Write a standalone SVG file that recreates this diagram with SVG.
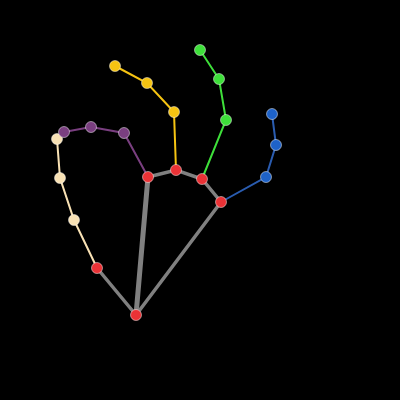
<svg xmlns="http://www.w3.org/2000/svg" width="400" height="400" viewBox="0 0 400 400">
<style>
.g{stroke:#808080;stroke-linecap:round;fill:none}
.c{fill:none;stroke-width:2;stroke-linecap:round}
circle{stroke:#ffffff;stroke-width:0.6;stroke-opacity:0.8}
.r{fill:#ea3236}.y{fill:#f6c412}.gr{fill:#3ee03a}.b{fill:#1e62c8}.p{fill:#7a3f80}.w{fill:#f8e1b4}
</style>
<rect width="400" height="400" fill="#000"/>
<g id="connectors">
<path class="g" stroke-width="5" d="M136,315 L148,177"/>
<path class="g" stroke-width="3.5" d="M136,315 L97,268 M136,315 L221,202 M148,177 L176,170 L202,179 L221,202"/>
<path class="c" stroke="#f8e1b4" d="M97,268 L74,220 L60,178 L57,139"/>
<path class="c" stroke="#7a3f80" d="M148,177 L124,133 L91,127 L64,132"/>
<path class="c" stroke="#f6c412" d="M176,170 L174,112 L147,83 L115,66"/>
<path class="c" stroke="#3ee03a" d="M202,179 L226,120 L219,79 L200,50"/>
<path class="c" stroke="#2a5cb0" d="M221,202 L266,177 L276,145 L272,114"/>
</g>
<g id="thumb">
<circle class="w" cx="74" cy="220" r="5.5"/><circle class="w" cx="60" cy="178" r="5.5"/><circle class="w" cx="57" cy="139" r="5.5"/>
</g>
<g id="pinky">
<circle class="p" cx="124" cy="133" r="5.5"/><circle class="p" cx="91" cy="127" r="5.5"/><circle class="p" cx="64" cy="132" r="5.5"/>
</g>
<g id="ring">
<circle class="y" cx="174" cy="112" r="5.5"/><circle class="y" cx="147" cy="83" r="5.5"/><circle class="y" cx="115" cy="66" r="5.5"/>
</g>
<g id="middle">
<circle class="gr" cx="226" cy="120" r="5.5"/><circle class="gr" cx="219" cy="79" r="5.5"/><circle class="gr" cx="200" cy="50" r="5.5"/>
</g>
<g id="index">
<circle class="b" cx="266" cy="177" r="5.5"/><circle class="b" cx="276" cy="145" r="5.5"/><circle class="b" cx="272" cy="114" r="5.5"/>
</g>
<g id="palm">
<circle class="r" cx="136" cy="315" r="5.5"/><circle class="r" cx="97" cy="268" r="5.5"/><circle class="r" cx="148" cy="177" r="5.5"/><circle class="r" cx="176" cy="170" r="5.5"/><circle class="r" cx="202" cy="179" r="5.5"/><circle class="r" cx="221" cy="202" r="5.5"/>
</g>
</svg>
